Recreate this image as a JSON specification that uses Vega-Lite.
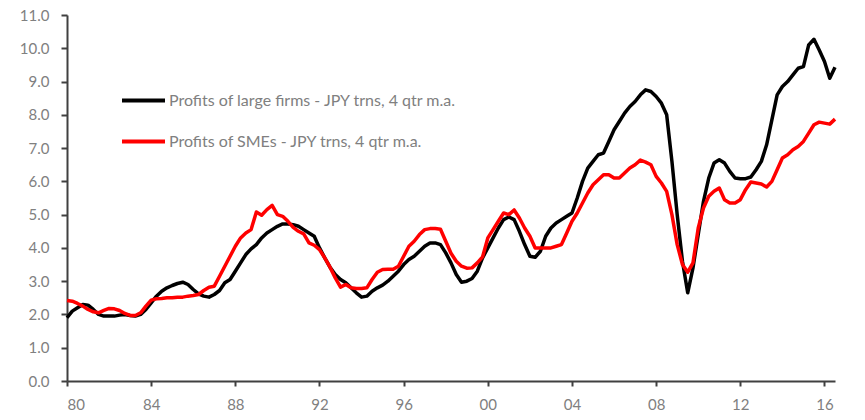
{
  "$schema": "https://vega.github.io/schema/vega-lite/v6.json",
  "description": "Profits of large firms vs SMEs in Japan, JPY trillions, 4 quarter moving average, 1980-2016.",
  "width": 768,
  "height": 366,
  "autosize": {"type": "none"},
  "padding": {"left": 67, "top": 15, "right": 30, "bottom": 39},
  "background": "white",
  "config": {
    "view": {"stroke": null},
    "font": "Lato"
  },
  "data": {
    "values": [
      {"t": 1980.0, "L": 1.9, "S": 2.42},
      {"t": 1980.25, "L": 2.1, "S": 2.4},
      {"t": 1980.5, "L": 2.2, "S": 2.33},
      {"t": 1980.75, "L": 2.3, "S": 2.25},
      {"t": 1981.0, "L": 2.28, "S": 2.15},
      {"t": 1981.25, "L": 2.15, "S": 2.08},
      {"t": 1981.5, "L": 2.0, "S": 2.05},
      {"t": 1981.75, "L": 1.95, "S": 2.12},
      {"t": 1982.0, "L": 1.95, "S": 2.18},
      {"t": 1982.25, "L": 1.95, "S": 2.17},
      {"t": 1982.5, "L": 1.98, "S": 2.12},
      {"t": 1982.75, "L": 2.0, "S": 2.03},
      {"t": 1983.0, "L": 1.97, "S": 1.97},
      {"t": 1983.25, "L": 1.95, "S": 1.97},
      {"t": 1983.5, "L": 2.0, "S": 2.05},
      {"t": 1983.75, "L": 2.15, "S": 2.25},
      {"t": 1984.0, "L": 2.35, "S": 2.43},
      {"t": 1984.25, "L": 2.55, "S": 2.47},
      {"t": 1984.5, "L": 2.7, "S": 2.48},
      {"t": 1984.75, "L": 2.8, "S": 2.5},
      {"t": 1985.0, "L": 2.87, "S": 2.5},
      {"t": 1985.25, "L": 2.93, "S": 2.52},
      {"t": 1985.5, "L": 2.97, "S": 2.52},
      {"t": 1985.75, "L": 2.9, "S": 2.55},
      {"t": 1986.0, "L": 2.75, "S": 2.57},
      {"t": 1986.25, "L": 2.62, "S": 2.6},
      {"t": 1986.5, "L": 2.55, "S": 2.72},
      {"t": 1986.75, "L": 2.52, "S": 2.82},
      {"t": 1987.0, "L": 2.6, "S": 2.85},
      {"t": 1987.25, "L": 2.72, "S": 3.15},
      {"t": 1987.5, "L": 2.95, "S": 3.45},
      {"t": 1987.75, "L": 3.05, "S": 3.75},
      {"t": 1988.0, "L": 3.3, "S": 4.05},
      {"t": 1988.25, "L": 3.55, "S": 4.3},
      {"t": 1988.5, "L": 3.8, "S": 4.45},
      {"t": 1988.75, "L": 3.97, "S": 4.55},
      {"t": 1989.0, "L": 4.1, "S": 5.08},
      {"t": 1989.25, "L": 4.3, "S": 4.98},
      {"t": 1989.5, "L": 4.45, "S": 5.15},
      {"t": 1989.75, "L": 4.55, "S": 5.28},
      {"t": 1990.0, "L": 4.65, "S": 5.0},
      {"t": 1990.25, "L": 4.72, "S": 4.95},
      {"t": 1990.5, "L": 4.72, "S": 4.8},
      {"t": 1990.75, "L": 4.7, "S": 4.62},
      {"t": 1991.0, "L": 4.65, "S": 4.5},
      {"t": 1991.25, "L": 4.55, "S": 4.42},
      {"t": 1991.5, "L": 4.45, "S": 4.15},
      {"t": 1991.75, "L": 4.35, "S": 4.08},
      {"t": 1992.0, "L": 4.0, "S": 3.95},
      {"t": 1992.25, "L": 3.7, "S": 3.7},
      {"t": 1992.5, "L": 3.42, "S": 3.42},
      {"t": 1992.75, "L": 3.2, "S": 3.1},
      {"t": 1993.0, "L": 3.05, "S": 2.82},
      {"t": 1993.25, "L": 2.95, "S": 2.9},
      {"t": 1993.5, "L": 2.8, "S": 2.8},
      {"t": 1993.75, "L": 2.65, "S": 2.78},
      {"t": 1994.0, "L": 2.52, "S": 2.78},
      {"t": 1994.25, "L": 2.55, "S": 2.8},
      {"t": 1994.5, "L": 2.7, "S": 3.05},
      {"t": 1994.75, "L": 2.8, "S": 3.27},
      {"t": 1995.0, "L": 2.88, "S": 3.35},
      {"t": 1995.25, "L": 3.0, "S": 3.36},
      {"t": 1995.5, "L": 3.15, "S": 3.36},
      {"t": 1995.75, "L": 3.3, "S": 3.45},
      {"t": 1996.0, "L": 3.5, "S": 3.75},
      {"t": 1996.25, "L": 3.65, "S": 4.05},
      {"t": 1996.5, "L": 3.75, "S": 4.2},
      {"t": 1996.75, "L": 3.9, "S": 4.4},
      {"t": 1997.0, "L": 4.05, "S": 4.55},
      {"t": 1997.25, "L": 4.15, "S": 4.58},
      {"t": 1997.5, "L": 4.15, "S": 4.58},
      {"t": 1997.75, "L": 4.1, "S": 4.56},
      {"t": 1998.0, "L": 3.85, "S": 4.2},
      {"t": 1998.25, "L": 3.55, "S": 3.84},
      {"t": 1998.5, "L": 3.2, "S": 3.6},
      {"t": 1998.75, "L": 2.97, "S": 3.45},
      {"t": 1999.0, "L": 3.0, "S": 3.39},
      {"t": 1999.25, "L": 3.08, "S": 3.4},
      {"t": 1999.5, "L": 3.3, "S": 3.55},
      {"t": 1999.75, "L": 3.7, "S": 3.73},
      {"t": 2000.0, "L": 4.0, "S": 4.3},
      {"t": 2000.25, "L": 4.3, "S": 4.55},
      {"t": 2000.5, "L": 4.6, "S": 4.8},
      {"t": 2000.75, "L": 4.85, "S": 5.05},
      {"t": 2001.0, "L": 4.93, "S": 5.0},
      {"t": 2001.25, "L": 4.85, "S": 5.14},
      {"t": 2001.5, "L": 4.5, "S": 4.9},
      {"t": 2001.75, "L": 4.1, "S": 4.6},
      {"t": 2002.0, "L": 3.75, "S": 4.35},
      {"t": 2002.25, "L": 3.72, "S": 4.0},
      {"t": 2002.5, "L": 3.9, "S": 4.0},
      {"t": 2002.75, "L": 4.35, "S": 4.0},
      {"t": 2003.0, "L": 4.6, "S": 4.0},
      {"t": 2003.25, "L": 4.75, "S": 4.05},
      {"t": 2003.5, "L": 4.85, "S": 4.1},
      {"t": 2003.75, "L": 4.95, "S": 4.45},
      {"t": 2004.0, "L": 5.05, "S": 4.8},
      {"t": 2004.25, "L": 5.5, "S": 5.05},
      {"t": 2004.5, "L": 6.0, "S": 5.35},
      {"t": 2004.75, "L": 6.4, "S": 5.65},
      {"t": 2005.0, "L": 6.6, "S": 5.9},
      {"t": 2005.25, "L": 6.8, "S": 6.05},
      {"t": 2005.5, "L": 6.85, "S": 6.2},
      {"t": 2005.75, "L": 7.2, "S": 6.2},
      {"t": 2006.0, "L": 7.55, "S": 6.1},
      {"t": 2006.25, "L": 7.8, "S": 6.1},
      {"t": 2006.5, "L": 8.05, "S": 6.25},
      {"t": 2006.75, "L": 8.25, "S": 6.4},
      {"t": 2007.0, "L": 8.4, "S": 6.5},
      {"t": 2007.25, "L": 8.6, "S": 6.64},
      {"t": 2007.5, "L": 8.75, "S": 6.58},
      {"t": 2007.75, "L": 8.7, "S": 6.5},
      {"t": 2008.0, "L": 8.55, "S": 6.15},
      {"t": 2008.25, "L": 8.35, "S": 5.95},
      {"t": 2008.5, "L": 8.0, "S": 5.7},
      {"t": 2008.75, "L": 6.6, "S": 5.0},
      {"t": 2009.0, "L": 5.0, "S": 4.1},
      {"t": 2009.25, "L": 3.6, "S": 3.5},
      {"t": 2009.5, "L": 2.65, "S": 3.27},
      {"t": 2009.75, "L": 3.4, "S": 3.55},
      {"t": 2010.0, "L": 4.4, "S": 4.6},
      {"t": 2010.25, "L": 5.4, "S": 5.2},
      {"t": 2010.5, "L": 6.1, "S": 5.55},
      {"t": 2010.75, "L": 6.55, "S": 5.7},
      {"t": 2011.0, "L": 6.65, "S": 5.8},
      {"t": 2011.25, "L": 6.55, "S": 5.45},
      {"t": 2011.5, "L": 6.3, "S": 5.35},
      {"t": 2011.75, "L": 6.1, "S": 5.35},
      {"t": 2012.0, "L": 6.08, "S": 5.45},
      {"t": 2012.25, "L": 6.08, "S": 5.75},
      {"t": 2012.5, "L": 6.13, "S": 5.98},
      {"t": 2012.75, "L": 6.35, "S": 5.95},
      {"t": 2013.0, "L": 6.6, "S": 5.92},
      {"t": 2013.25, "L": 7.1, "S": 5.83},
      {"t": 2013.5, "L": 7.85, "S": 6.0},
      {"t": 2013.75, "L": 8.6, "S": 6.35},
      {"t": 2014.0, "L": 8.85, "S": 6.7},
      {"t": 2014.25, "L": 9.0, "S": 6.8},
      {"t": 2014.5, "L": 9.2, "S": 6.95},
      {"t": 2014.75, "L": 9.4, "S": 7.05},
      {"t": 2015.0, "L": 9.45, "S": 7.2},
      {"t": 2015.25, "L": 10.1, "S": 7.45},
      {"t": 2015.5, "L": 10.27, "S": 7.7},
      {"t": 2015.75, "L": 9.95, "S": 7.78},
      {"t": 2016.0, "L": 9.6, "S": 7.75},
      {"t": 2016.25, "L": 9.1, "S": 7.72},
      {"t": 2016.5, "L": 9.43, "S": 7.87}
    ]
  },
  "transform": [
    {"fold": ["L", "S"], "as": ["series", "value"]}
  ],
  "mark": {"type": "line", "strokeWidth": 3.5, "strokeJoin": "round", "clip": false},
  "encoding": {
    "x": {
      "field": "t",
      "type": "quantitative",
      "scale": {"domain": [1980, 2016.5], "nice": false, "zero": false},
      "axis": {
        "title": null,
        "grid": false,
        "values": [1980, 1984, 1988, 1992, 1996, 2000, 2004, 2008, 2012, 2016],
        "labelExpr": "slice(format(datum.value, 'd'), 2)",
        "labelFontSize": 15,
        "labelColor": "#808080",
        "labelPadding": 11,
        "domainColor": "#404040",
        "domainWidth": 2,
        "tickColor": "#404040",
        "tickWidth": 2,
        "tickSize": 5
      }
    },
    "y": {
      "field": "value",
      "type": "quantitative",
      "scale": {"domain": [0, 11], "nice": false},
      "axis": {
        "title": null,
        "grid": false,
        "values": [0, 1, 2, 3, 4, 5, 6, 7, 8, 9, 10, 11],
        "format": ".1f",
        "labelFontSize": 15,
        "labelColor": "#808080",
        "labelPadding": 12,
        "domainColor": "#404040",
        "domainWidth": 2,
        "tickColor": "#404040",
        "tickWidth": 2,
        "tickSize": 6
      }
    },
    "color": {
      "field": "series",
      "type": "nominal",
      "scale": {"domain": ["L", "S"], "range": ["#000000", "#ff0000"]},
      "legend": {
        "title": null,
        "orient": "none",
        "legendX": 53,
        "legendY": 62,
        "symbolType": "stroke",
        "symbolSize": 1849,
        "symbolStrokeWidth": 4,
        "labelFontSize": 16,
        "labelColor": "#808080",
        "labelOffset": 2,
        "rowPadding": 9,
        "labelLimit": 450,
        "labelExpr": "datum.label == 'L' ? 'Profits of large firms - JPY trns, 4 qtr m.a.' : 'Profits of SMEs - JPY trns, 4 qtr m.a.'"
      }
    }
  }
}
